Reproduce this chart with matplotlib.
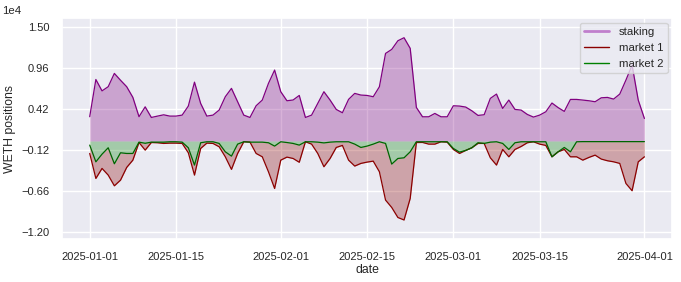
import numpy as np
import pandas as pd
import matplotlib
matplotlib.use("Agg")
import matplotlib.pyplot as plt
import matplotlib.dates as mdates
from matplotlib.lines import Line2D
import seaborn as sns

# ---- data (daily, 2025-01-01 .. 2025-04-01) ----
dates = pd.date_range("2025-01-01", periods=91, freq="D")

staking = [3200, 8100, 6600, 7150, 8900, 8000, 7150, 5750, 3200, 4500,
           3100, 3280, 3450, 3280, 3280, 3410, 4600, 7750, 4950, 3280,
           3410, 4070, 5830, 6930, 5170, 3410, 3100, 4640, 5390, 7580,
           9340, 6490, 5300, 5400, 6000, 3100, 3410, 4950, 6490, 5390,
           4160, 3720, 5480, 6270, 6050, 6000, 5830, 7140, 11530, 12060,
           13200, 13600, 12200, 4420, 3190, 3190, 3630, 3190, 3190, 4640,
           4600, 4470, 3980, 3370, 3460, 5610, 6180, 4290, 5390, 4160,
           4070, 3500, 3150, 3410, 3850, 5000, 4400, 3900, 5475, 5475,
           5390, 5300, 5170, 5690, 5740, 5520, 6180, 8020, 10000, 5390,
           2970]

market1 = [-1640, -4930, -3610, -4490, -5900, -5150, -3480, -2520, -200, -1200,
           -200, -230, -320, -280, -280, -320, -1550, -4490, -980, -280,
           -320, -760, -2080, -3740, -1640, -100, -140, -1640, -2080, -4050,
           -6250, -2520, -2120, -2300, -2800, -100, -410, -1640, -3390, -2300,
           -850, -580, -2520, -3300, -2950, -2780, -2650, -4050, -7780, -8750,
           -10070, -10400, -7560, -200, -190, -410, -410, -100, -150, -1110,
           -1640, -1240, -890, -320, -320, -2210, -3170, -1110, -2080, -1110,
           -720, -230, -100, -410, -580, -2080, -1420, -1110, -2080, -2080,
           -2520, -2160, -1860, -2380, -2600, -2740, -2950, -5590, -6550, -2740,
           -2080]

market2 = [-540, -2740, -1730, -890, -3000, -1550, -1640, -1640, -150, -300,
           -150, -150, -150, -100, -100, -150, -890, -3170, -230, -100,
           -100, -320, -1420, -1990, -410, -100, -150, -150, -150, -230,
           -670, -100, -200, -320, -540, -100, -100, -150, -250, -150,
           -100, -100, -100, -410, -850, -670, -410, -100, -320, -3040,
           -2300, -2210, -1420, -100, -100, -100, -100, -100, -100, -980,
           -1460, -1240, -890, -230, -320, -150, -100, -320, -1110, -230,
           -100, -100, -100, -100, -100, -2080, -1420, -850, -1420, -100,
           -80, -80, -80, -80, -80, -80, -80, -80, -80, -80,
           -80]

series_labels = ["staking", "market 1", "market 2"]
date_ticks = ["2025-01-01", "2025-01-15", "2025-02-01", "2025-02-15",
              "2025-03-01", "2025-03-15", "2025-04-01"]
y_ticks = [-12000, -6600, -1200, 4200, 9600, 15000]

# ---- style ----
sns.set_theme(style="darkgrid")
plt.rcParams["font.family"] = ["Liberation Sans", "DejaVu Sans"]

fig = plt.figure(figsize=(6.81, 2.82), dpi=100)
ax = fig.add_axes([0.091, 0.152, 0.896, 0.784])

st = np.array(staking, dtype=float)
m1 = np.array(market1, dtype=float)
m2 = np.array(market2, dtype=float)

ax.fill_between(dates, 0, st, color="purple", alpha=0.3, lw=0)
ax.plot(dates, st, color="purple", lw=0.9)
ax.fill_between(dates, m2, m1, color="darkred", alpha=0.3, lw=0)
ax.plot(dates, m1, color="darkred", lw=0.9)
ax.fill_between(dates, 0, m2, color="green", alpha=0.3, lw=0)
ax.plot(dates, m2, color="darkgreen", lw=0.9)

ax.set_ylim(-12920, 16190)
ax.set_yticks(y_ticks)
ax.ticklabel_format(axis="y", style="sci", scilimits=(0, 0))
off = ax.yaxis.get_offset_text()
off.set_fontsize(8.2)
off.set_x(-0.098)

ax.set_xticks(pd.to_datetime(date_ticks))
ax.xaxis.set_major_formatter(mdates.DateFormatter("%Y-%m-%d"))

ax.tick_params(axis="both", labelsize=8, pad=3)
ax.set_xlabel("date", fontsize=8.8, labelpad=2)
ax.set_ylabel("WETH positions", fontsize=8.8, labelpad=4)

handles = [Line2D([], [], color="#c07fcc", lw=2.0),
           Line2D([], [], color="darkred", lw=1.0),
           Line2D([], [], color="green", lw=1.0)]
ax.legend(handles, series_labels, loc="upper right", fontsize=8.2,
          borderaxespad=0.4, handlelength=2.2)

fig.savefig("out.png", dpi=100)
